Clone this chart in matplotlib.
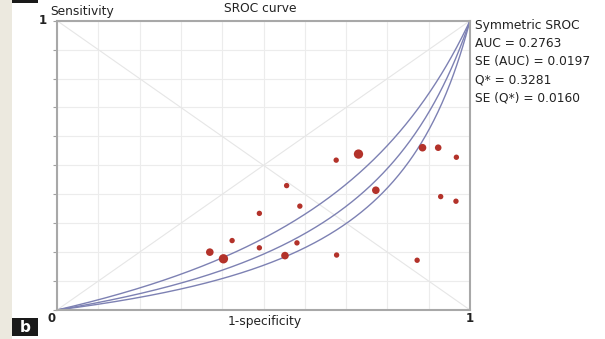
import numpy as np
import matplotlib
matplotlib.use("Agg")
import matplotlib.pyplot as plt
from matplotlib.patches import Rectangle

# ---- data ----
fpr = [0.556, 0.588, 0.490, 0.424, 0.370, 0.403, 0.490, 0.581, 0.552,
       0.676, 0.730, 0.885, 0.923, 0.967, 0.772, 0.929, 0.966, 0.677, 0.872]
tpr = [0.430, 0.359, 0.334, 0.240, 0.200, 0.177, 0.215, 0.232, 0.188,
       0.518, 0.539, 0.561, 0.561, 0.528, 0.414, 0.392, 0.376, 0.190, 0.172]
weight = [1, 1, 1, 1, 2, 3, 1, 1, 2,
          1, 3, 2, 1.5, 1, 2, 1, 1, 1, 1]
# symmetric SROC intercepts (logit scale): lower CI, estimate, upper CI
sroc_a = [-1.70, -1.43, -1.11]
legend_lines = ["Symmetric SROC", "AUC = 0.2763", "SE (AUC) = 0.0197",
                "Q* = 0.3281", "SE (Q*) = 0.0160"]

W, H = 605, 339
fig = plt.figure(figsize=(W / 100, H / 100), dpi=100)
fig.patch.set_facecolor("white")
plt.rcParams["font.family"] = ["DejaVu Sans"]

def fx(px):
    return px / W

def fy(py):
    return 1 - py / H

# decorative page elements
fig.patches.append(Rectangle((0, 0), fx(12), 1, transform=fig.transFigure,
                             facecolor="#ece9df", edgecolor="none", zorder=0))
fig.patches.append(Rectangle((fx(12), fy(2.5)), fx(26), 2.5 / H, transform=fig.transFigure,
                             facecolor="#1a1a1a", edgecolor="none", zorder=0))
fig.patches.append(Rectangle((fx(12), fy(336)), fx(26), 18 / H, transform=fig.transFigure,
                             facecolor="#1a1a1a", edgecolor="none", zorder=0))
fig.text(fx(25), fy(327), "b", color="white", fontsize=11, fontweight="bold",
         ha="center", va="center")

ax = fig.add_axes([fx(57), fy(310), (470 - 57) / W, (310 - 20.7) / H])
ax.set_xlim(0, 1)
ax.set_ylim(0, 1)
ticks = np.linspace(0, 1, 11)
ax.set_xticks(ticks)
ax.set_yticks(ticks)
ax.grid(True, color="#ececec", lw=0.8)
ax.set_axisbelow(True)
ax.tick_params(axis="x", length=0, labelbottom=False)
ax.tick_params(axis="y", length=3, width=0.8, color="#a0a0a0", labelleft=False)
for s in ax.spines.values():
    s.set_color("#a8a8a8")
    s.set_linewidth(1.5)

ax.plot([0, 1], [0, 1], color="#e6e6e6", lw=0.8, zorder=1)
ax.plot([0, 1], [1, 0], color="#e6e6e6", lw=0.8, zorder=1)

x = np.linspace(1e-4, 1 - 1e-4, 400)
for a in sroc_a:
    odds = np.exp(a) * x / (1 - x)
    y = odds / (1 + odds)
    ax.plot(np.r_[0, x, 1], np.r_[0, y, 1], color="#7d81b3", lw=1.0, zorder=2)

sizes = [15 + (w - 1) * 15 for w in weight]
ax.scatter(fpr, tpr, s=sizes, color="#b3322a", edgecolors="none", zorder=3, clip_on=False)

tc = "#222222"
fig.text(fx(50), fy(12), "Sensitivity", fontsize=8.8, color=tc, ha="left", va="center")
fig.text(fx(260), fy(9), "SROC curve", fontsize=8.8, color=tc, ha="center", va="center")
fig.text(fx(43), fy(20.5), "1", fontsize=8.5, color=tc, ha="center", va="center", fontweight="bold")
fig.text(fx(52), fy(318.5), "0", fontsize=8.5, color=tc, ha="center", va="center", fontweight="bold")
fig.text(fx(470), fy(318), "1", fontsize=8.5, color=tc, ha="center", va="center", fontweight="bold")
fig.text(fx(265), fy(322), "1-specificity", fontsize=8.8, color=tc, ha="center", va="center")

for i, line in enumerate(legend_lines):
    fig.text(fx(475), fy(25 + i * 18.3), line, fontsize=8.8, color=tc,
             ha="left", va="center")

fig.savefig("out.png", dpi=100, facecolor="white")
